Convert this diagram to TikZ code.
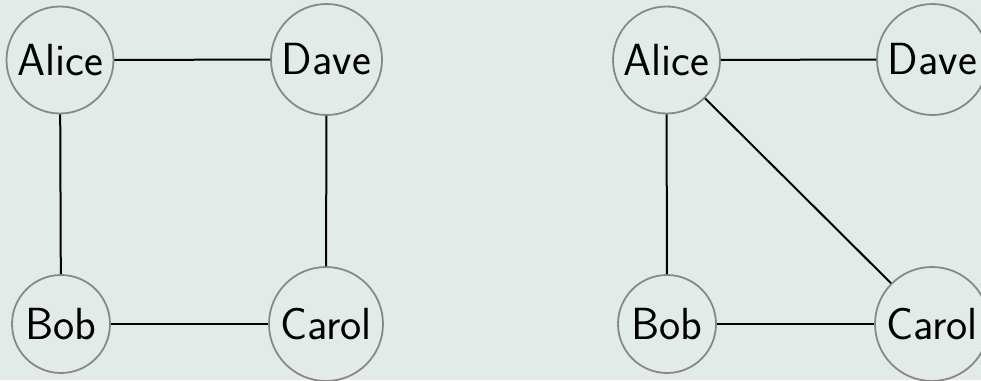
\documentclass[tikz,border=0pt]{standalone}
\usepackage{fontspec}
\definecolor{bgcol}{HTML}{E3EBE8}
\definecolor{ringcol}{HTML}{888888}
\tikzset{
  person/.style={circle, draw=ringcol, line width=1.8pt, inner sep=0pt,
    font=\fontsize{45}{48}\selectfont\sffamily},
  link/.style={draw=black, line width=2pt}
}
\begin{document}
\begin{tikzpicture}[x=1pt, y=-1pt]
  \fill[bgcol] (0,0) rectangle (981,380);
  \useasboundingbox (0,0) rectangle (981,380);
  % first graph: a 4-cycle
  \node[person, minimum size=107pt] (A1) at (60,60) {Alice};
  \node[person, minimum size=111pt] (D1) at (326.5,59.5) {Dave};
  \node[person, minimum size=98pt] (B1) at (61,324) {Bob};
  \node[person, minimum size=114pt] (C1) at (326,324) {Carol};
  \draw[link] (A1) -- (D1);
  \draw[link] (A1) -- (B1);
  \draw[link] (D1) -- (C1);
  \draw[link] (B1) -- (C1);
  % second graph: Alice in the middle
  \node[person, minimum size=107pt] (A2) at (666.5,60) {Alice};
  \node[person, minimum size=111pt] (D2) at (932.5,59.5) {Dave};
  \node[person, minimum size=98pt] (B2) at (667,324) {Bob};
  \node[person, minimum size=114pt] (C2) at (932,324) {Carol};
  \draw[link] (A2) -- (D2);
  \draw[link] (A2) -- (B2);
  \draw[link] (A2) -- (C2);
  \draw[link] (B2) -- (C2);
\end{tikzpicture}
\end{document}
